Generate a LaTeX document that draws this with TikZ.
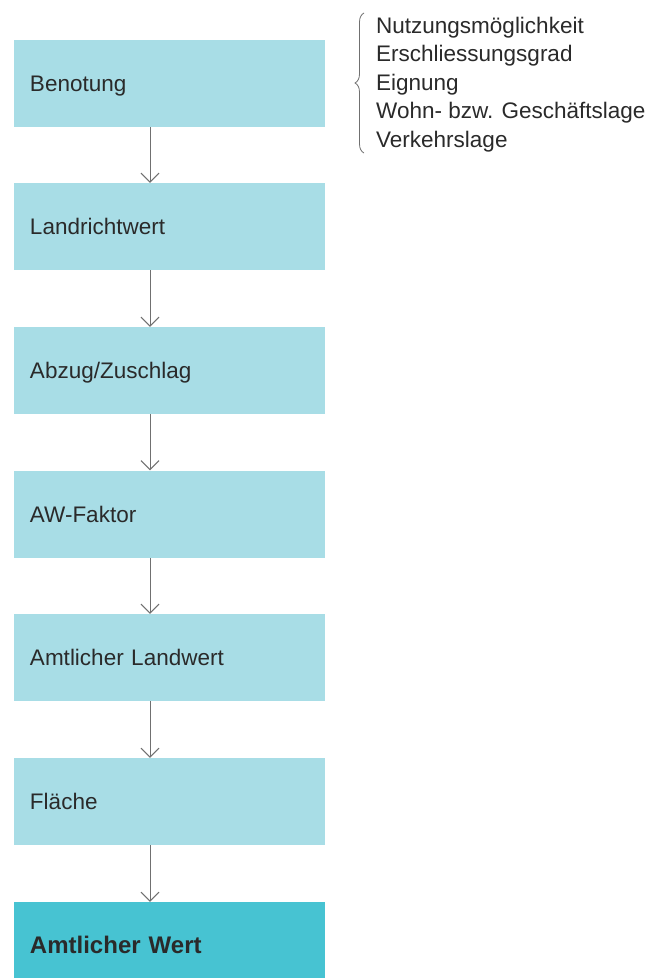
\documentclass[tikz,border=0pt]{standalone}
\usepackage{fontspec}
\setmainfont{Liberation Sans}
\usetikzlibrary{arrows.meta,decorations.pathreplacing}
\definecolor{boxlight}{HTML}{A8DDE6}
\definecolor{boxdark}{HTML}{47C3D2}
\definecolor{txt}{HTML}{2A2A2A}
\definecolor{arr}{HTML}{707070}
\begin{document}
\begin{tikzpicture}[x=1pt,y=-1pt,
  box/.style={minimum width=311pt, minimum height=87pt, fill=boxlight,
    text width=279pt, inner xsep=16pt, inner ysep=0pt, align=left,
    text height=16.5pt, text depth=0pt, text=txt,
    font=\fontsize{22.5}{27}\selectfont},
  finalbox/.style={box, fill=boxdark, font=\fontsize{24}{28}\selectfont\bfseries},
  flow/.style={draw=arr, line width=1pt, -{Straight Barb[length=9pt,width=18pt,line width=1pt]}},
  crit/.style={anchor=base west, inner sep=0pt, text=txt, font=\fontsize{22.5}{27}\selectfont},
  bracestyle/.style={draw=arr, line width=0.8pt, decorate, decoration={brace, amplitude=9pt}}]
\clip (0,0) rectangle (662,978);
\fill[white] (0,0) rectangle (662,978);

\node[box] (b1) at (169.5,83.5) {Benotung};
\node[box] (b2) at (169.5,226.5) {Landrichtwert};
\node[box] (b3) at (169.5,370.5) {Abzug/Zuschlag};
\node[box] (b4) at (169.5,514) {AW-Faktor};
\node[box] (b5) at (169.5,657.5) {Amtlicher Landwert};
\node[box] (b6) at (169.5,801.5) {Fläche};
\node[finalbox] (b7) at (169.5,945.5) {Amtlicher Wert};

\foreach \a/\b in {b1/b2,b2/b3,b3/b4,b4/b5,b5/b6,b6/b7}
  \draw[flow] ([xshift=-19.5pt]\a.south) -- ([xshift=-19.5pt]\b.north);

\node[crit] (l1) at (376,33) {Nutzungsmöglichkeit};
\node[crit] (l2) at (376,61.7) {Erschliessungsgrad};
\node[crit] (l3) at (376,90) {Eignung};
\node[crit] (l4) at (376,118.5) {Wohn- bzw. Geschäftslage};
\node[crit] (l5) at (376,147) {Verkehrslage};

\coordinate (bt) at (364,13);
\coordinate (bb) at (364,153);
\draw[bracestyle] (bb) -- (bt);
\end{tikzpicture}
\end{document}
